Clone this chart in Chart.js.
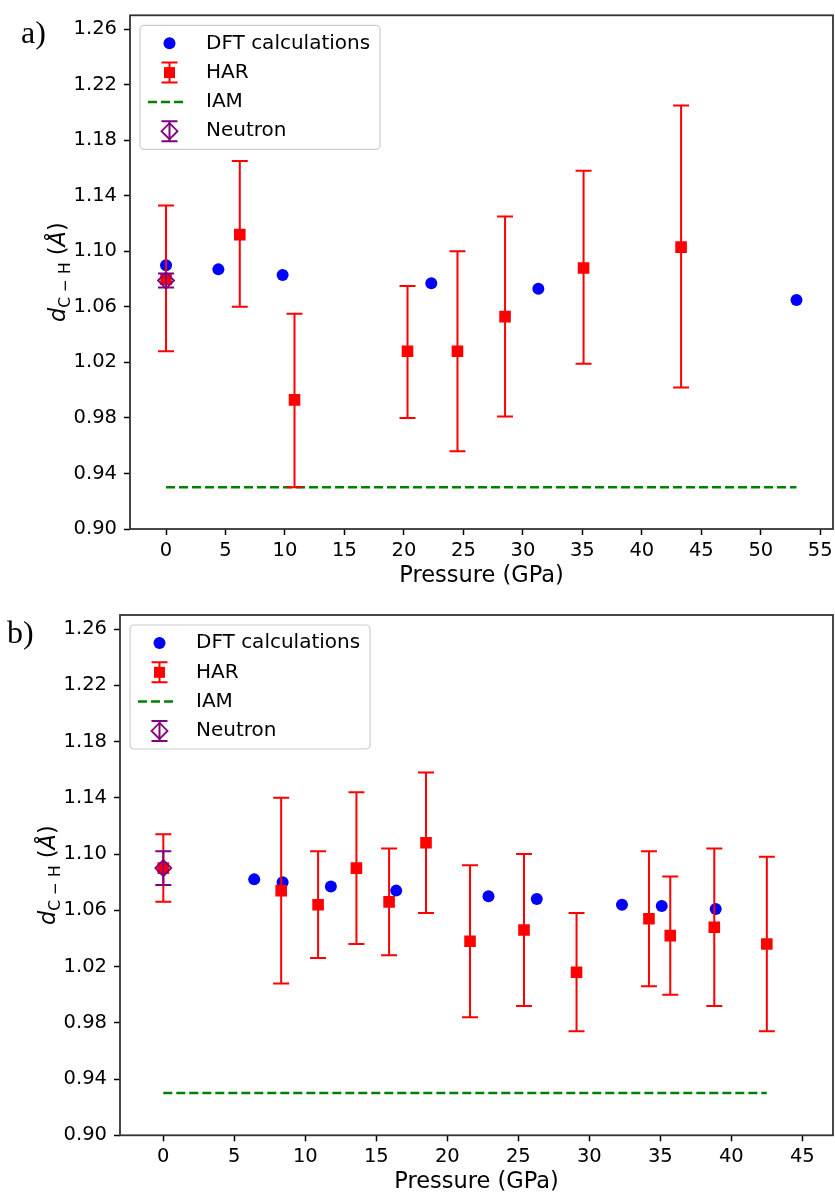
<!DOCTYPE html>
<html>
<head>
<meta charset="utf-8">
<script src="https://cdn.jsdelivr.net/npm/chart.js@4.4.1/dist/chart.umd.min.js"></script>
<style>
  body { margin: 0; background: #fff; }
  #wrap { position: relative; width: 835px; height: 1196px; }
  canvas { position: absolute; left: 0; }
  .tag { position: absolute; font-family: "Liberation Serif", serif; font-size: 32px; line-height: 32px; color: #000; }
</style>
</head>
<body>
<div id="wrap">
  <canvas id="chartA" width="835" height="590" style="top:0"></canvas>
  <canvas id="chartB" width="835" height="600" style="top:596px"></canvas>
  <div class="tag" style="left:21px;top:16px">a)</div>
  <div class="tag" style="left:7px;top:616px">b)</div>
</div>
<script>
// ---- panel a) ----
const dftA_x = [0, 4.4, 9.8, 22.3, 31.3, 53.0];
const dftA_y = [1.090, 1.087, 1.083, 1.077, 1.073, 1.065];
const harA_x = [0, 6.2, 10.8, 20.3, 24.5, 28.5, 35.1, 43.3];
const harA_y = [1.080, 1.112, 0.993, 1.028, 1.028, 1.053, 1.088, 1.103];
const harA_lo = [1.028, 1.060, 0.930, 0.980, 0.956, 0.981, 1.019, 1.002];
const harA_hi = [1.133, 1.165, 1.055, 1.075, 1.100, 1.125, 1.158, 1.205];
const neutA_x = [0];
const neutA_y = [1.079];
const neutA_lo = [1.074];
const neutA_hi = [1.084];
const iamA_x = [0, 53.0];
const iamA_y = [0.93, 0.93];
const xTicksA = [0, 5, 10, 15, 20, 25, 30, 35, 40, 45, 50, 55];

// ---- panel b) ----
const dftB_x = [0, 6.4, 8.4, 11.8, 16.4, 22.9, 26.3, 32.3, 35.1, 38.9];
const dftB_y = [1.090, 1.082, 1.080, 1.077, 1.074, 1.070, 1.068, 1.064, 1.063, 1.061];
const harB_x = [0, 8.3, 10.9, 13.6, 15.9, 18.5, 21.6, 25.4, 29.1, 34.2, 35.7, 38.8, 42.5];
const harB_y = [1.090, 1.074, 1.064, 1.090, 1.066, 1.108, 1.038, 1.046, 1.016, 1.054, 1.042, 1.048, 1.036];
const harB_lo = [1.066, 1.008, 1.026, 1.036, 1.028, 1.058, 0.984, 0.992, 0.974, 1.006, 1.000, 0.992, 0.974];
const harB_hi = [1.114, 1.140, 1.102, 1.144, 1.104, 1.158, 1.092, 1.100, 1.058, 1.102, 1.084, 1.104, 1.098];
const neutB_x = [0];
const neutB_y = [1.090];
const neutB_lo = [1.078];
const neutB_hi = [1.102];
const iamB_x = [0, 42.5];
const iamB_y = [0.93, 0.93];
const xTicksB = [0, 5, 10, 15, 20, 25, 30, 35, 40, 45];

const yTicks = [0.90, 0.94, 0.98, 1.02, 1.06, 1.10, 1.14, 1.18, 1.22, 1.26];
const seriesNames = ['DFT calculations', 'HAR', 'IAM', 'Neutron'];

const BLUE = '#0000ff', RED = '#ff0000', GREEN = '#008000', PURPLE = '#800080';
const FONT = '"DejaVu Sans", sans-serif';

function pts(xs, ys) {
    return xs.map((x, i) => ({ x: x, y: ys[i] }));
}

// error bars, drawn just before the dataset's own markers
const errorBars = {
    id: 'errorBars',
    beforeDatasetDraw(chart, args) {
        const ds = chart.data.datasets[args.index];
        if (!ds.errLo) return;
        const xs = chart.scales.x, ys = chart.scales.y, ctx = chart.ctx;
        ctx.save();
        ctx.strokeStyle = ds.errColor;
        ctx.lineWidth = 2;
        ds.data.forEach((p, i) => {
            const px = xs.getPixelForValue(p.x);
            const top = ys.getPixelForValue(ds.errHi[i]);
            const bot = ys.getPixelForValue(ds.errLo[i]);
            ctx.beginPath();
            ctx.moveTo(px, top); ctx.lineTo(px, bot);
            ctx.moveTo(px - 8, top); ctx.lineTo(px + 8, top);
            ctx.moveTo(px - 8, bot); ctx.lineTo(px + 8, bot);
            ctx.stroke();
        });
        ctx.restore();
    }
};

// frame, legend box and y axis title
const decorations = {
    id: 'decorations',
    afterDraw(chart) {
        const ca = chart.chartArea, ctx = chart.ctx;
        ctx.save();
        ctx.strokeStyle = '#333';
        ctx.lineWidth = 1.8;
        ctx.strokeRect(ca.left, ca.top, ca.right - ca.left, ca.bottom - ca.top);

        // legend
        const bx = ca.left + 10, by = ca.top + 10, bw = 240, bh = 124;
        ctx.beginPath();
        ctx.roundRect(bx, by, bw, bh, 4);
        ctx.fillStyle = 'rgba(255,255,255,0.8)';
        ctx.fill();
        ctx.strokeStyle = '#cccccc';
        ctx.lineWidth = 1.2;
        ctx.stroke();

        const mx = bx + 29.5;
        const rowY = i => by + 18 + i * 29.3;
        // DFT
        ctx.fillStyle = BLUE;
        ctx.beginPath(); ctx.arc(mx, rowY(0), 6, 0, Math.PI * 2); ctx.fill();
        // HAR
        let y = rowY(1);
        ctx.strokeStyle = RED; ctx.lineWidth = 2;
        ctx.beginPath();
        ctx.moveTo(mx, y - 10); ctx.lineTo(mx, y + 10);
        ctx.moveTo(mx - 8, y - 10); ctx.lineTo(mx + 8, y - 10);
        ctx.moveTo(mx - 8, y + 10); ctx.lineTo(mx + 8, y + 10);
        ctx.stroke();
        ctx.fillStyle = RED;
        ctx.fillRect(mx - 5.5, y - 5.5, 11, 11);
        // IAM
        y = rowY(2);
        ctx.strokeStyle = GREEN; ctx.lineWidth = 2.5;
        ctx.setLineDash([9, 4]);
        ctx.beginPath(); ctx.moveTo(bx + 8, y); ctx.lineTo(bx + 45, y); ctx.stroke();
        ctx.setLineDash([]);
        // Neutron
        y = rowY(3);
        ctx.strokeStyle = PURPLE; ctx.lineWidth = 2;
        ctx.beginPath();
        ctx.moveTo(mx, y - 10); ctx.lineTo(mx, y + 10);
        ctx.moveTo(mx - 8, y - 10); ctx.lineTo(mx + 8, y - 10);
        ctx.moveTo(mx - 8, y + 10); ctx.lineTo(mx + 8, y + 10);
        ctx.stroke();
        ctx.lineWidth = 1.8;
        ctx.beginPath();
        ctx.moveTo(mx, y - 8); ctx.lineTo(mx + 8, y); ctx.lineTo(mx, y + 8); ctx.lineTo(mx - 8, y);
        ctx.closePath(); ctx.stroke();

        ctx.fillStyle = '#000';
        ctx.font = '20px ' + FONT;
        ctx.textBaseline = 'middle';
        seriesNames.forEach((n, i) => ctx.fillText(n, bx + 66, rowY(i)));

        // y axis title: d_{C-H} (Å)
        const parts = [
            { t: 'd', f: 'italic 22.5px ' + FONT, dy: 0 },
            { t: 'C − H', f: '15.5px ' + FONT, dy: 4.5 },
            { t: ' (', f: '22.5px ' + FONT, dy: 0 },
            { t: 'Å', f: 'italic 22.5px ' + FONT, dy: 0 },
            { t: ')', f: '22.5px ' + FONT, dy: 0 }
        ];
        let total = 0;
        parts.forEach(p => { ctx.font = p.f; p.w = ctx.measureText(p.t).width; total += p.w; });
        ctx.translate(ca.left - 65, (ca.top + ca.bottom) / 2);
        ctx.rotate(-Math.PI / 2);
        ctx.textBaseline = 'alphabetic';
        let x = -total / 2;
        parts.forEach(p => { ctx.font = p.f; ctx.fillText(p.t, x, p.dy); x += p.w; });
        ctx.restore();
    }
};

// drop the room Chart.js keeps for the overhanging end tick labels
function noOverhang(s) {
    s.paddingLeft = 0; s.paddingRight = 0; s.paddingTop = 0; s.paddingBottom = 0;
}

function makeChart(id, d) {
    const ctx = document.getElementById(id).getContext('2d');
    return new Chart(ctx, {
        type: 'scatter',
        data: {
            datasets: [
                {
                    label: 'Neutron',
                    data: pts(d.neutX, d.neutY),
                    errLo: d.neutLo, errHi: d.neutHi, errColor: PURPLE,
                    pointStyle: 'rectRot',
                    pointRadius: 8,
                    pointBackgroundColor: 'rgba(0,0,0,0)',
                    pointBorderColor: PURPLE,
                    pointBorderWidth: 1.8,
                    order: 0
                },
                {
                    label: 'HAR',
                    data: pts(d.harX, d.harY),
                    errLo: d.harLo, errHi: d.harHi, errColor: RED,
                    pointStyle: 'rect',
                    pointRadius: 8.2,
                    pointBackgroundColor: RED,
                    pointBorderWidth: 0,
                    order: 1
                },
                {
                    label: 'DFT calculations',
                    data: pts(d.dftX, d.dftY),
                    pointStyle: 'circle',
                    pointRadius: 6,
                    pointBackgroundColor: BLUE,
                    pointBorderWidth: 0,
                    order: 2
                },
                {
                    label: 'IAM',
                    data: pts(d.iamX, d.iamY),
                    showLine: true,
                    borderColor: GREEN,
                    borderWidth: 2.5,
                    borderDash: [9, 4],
                    pointRadius: 0,
                    order: 3
                }
            ]
        },
        options: {
            responsive: false,
            animation: false,
            events: [],
            layout: { autoPadding: false, padding: { top: d.padTop, right: 2, left: 0, bottom: 0 } },
            scales: {
                x: {
                    type: 'linear',
                    min: d.xMin,
                    max: d.xMax,
                    afterBuildTicks: s => { s.ticks = d.xTicks.map(v => ({ value: v })); },
                    afterFit: s => { s.height = d.xAxisH; noOverhang(s); },
                    ticks: { font: { family: FONT, size: 19.5 }, color: '#000', padding: 4, maxRotation: 0, autoSkip: false },
                    grid: { drawOnChartArea: false, drawTicks: true, tickLength: 6, tickWidth: 1.5, tickColor: '#000' },
                    border: { display: false },
                    title: { display: true, text: 'Pressure (GPa)', color: '#000', font: { family: FONT, size: 22.5 }, padding: 0 }
                },
                y: {
                    type: 'linear',
                    min: 0.90,
                    max: 1.27,
                    afterBuildTicks: s => { s.ticks = yTicks.map(v => ({ value: v })); },
                    afterFit: s => { s.width = d.yAxisW; noOverhang(s); },
                    ticks: { font: { family: FONT, size: 19.5 }, color: '#000', padding: 7, callback: v => v.toFixed(2) },
                    grid: { drawOnChartArea: false, drawTicks: true, tickLength: 6, tickWidth: 1.5, tickColor: '#000' },
                    border: { display: false }
                }
            },
            plugins: {
                legend: { display: false },
                tooltip: { enabled: false }
            }
        },
        plugins: [errorBars, decorations]
    });
}

document.fonts.load('20px "DejaVu Sans"').then(function () {
    makeChart('chartA', {
        dftX: dftA_x, dftY: dftA_y,
        harX: harA_x, harY: harA_y, harLo: harA_lo, harHi: harA_hi,
        neutX: neutA_x, neutY: neutA_y, neutLo: neutA_lo, neutHi: neutA_hi,
        iamX: iamA_x, iamY: iamA_y,
        xTicks: xTicksA, xMin: -3.03, xMax: 56.07,
        padTop: 15.3, xAxisH: 61, yAxisW: 130
    });
    makeChart('chartB', {
        dftX: dftB_x, dftY: dftB_y,
        harX: harB_x, harY: harB_y, harLo: harB_lo, harHi: harB_hi,
        neutX: neutB_x, neutY: neutB_y, neutLo: neutB_lo, neutHi: neutB_hi,
        iamX: iamB_x, iamY: iamB_y,
        xTicks: xTicksB, xMin: -3.05, xMax: 47.16,
        padTop: 19, xAxisH: 60.7, yAxisW: 120
    });
});
</script>
</body>
</html>
